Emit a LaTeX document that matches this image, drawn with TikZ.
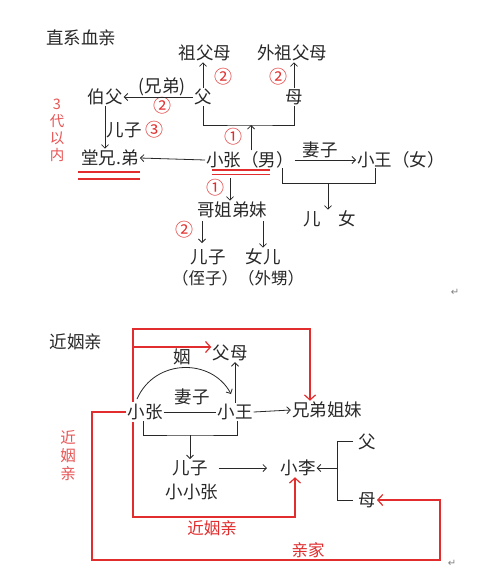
\documentclass[tikz,border=0pt]{standalone}
\usepackage{fontspec}
\setmainfont{Noto Sans CJK SC}
\newfontfamily\dejavu{DejaVu Sans}
\usetikzlibrary{arrows.meta,calc}
\definecolor{rd}{RGB}{225,45,45}
\definecolor{pk}{RGB}{232,85,85}
\definecolor{ink}{RGB}{40,40,40}
\begin{document}
\begin{tikzpicture}[x=1pt,y=-1pt,
  t/.style={inner sep=1pt, text=ink, font=\fontsize{17.5}{19}\selectfont},
  rt/.style={inner sep=1pt, text=rd, font=\fontsize{16.5}{17}\selectfont},
  num/.style={inner sep=0pt, text=rd, font=\fontsize{18}{18}\selectfont},
  arr/.style={draw=ink, line width=0.8pt, -{Straight Barb[length=3.5pt,width=7pt]}},
  ln/.style={draw=ink, line width=0.8pt},
  rln/.style={draw=rd, line width=1.2pt},
  rarr/.style={rln, -{Straight Barb[length=5pt,width=11pt]}},
  pm/.style={inner sep=0pt, text=gray, font=\dejavu\fontsize{10}{10}\selectfont}]
\useasboundingbox (0,0) rectangle (500,573);
\fill[white] (0,0) rectangle (500,573);

% ---------- top: 直系血亲 ----------
\node[t] (title1) at (81,38) {直系血亲};
\node[t] (zfm) at (205,53) {祖父母};
\node[t] (wzfm) at (292,53) {外祖父母};
\node[t] (fu) at (203,97) {父};
\node[t] (mu) at (294,97) {母};
\node[t] (bofu) at (105,97) {伯父};
\node[t] (xd) at (162,87) {(兄弟)};
\node[num] (n1) at (223,77) {②};
\node[num] (n2) at (278,77) {②};
\node[num] (n3) at (162,106) {②};
\node[t] (erzi1) at (124,130) {儿子};
\node[num] (n4) at (154,130) {③};
\node[inner sep=0pt, text=pk, align=center, font=\fontsize{14.5}{17}\selectfont] (sdyn) at (57,130) {3\\代\\以\\内};

\draw[arr] (fu.north) -- (fu.north |- zfm.south);
\draw[arr] (mu.north) -- (mu.north |- wzfm.south);
\draw[arr] (fu.west) -- (bofu.east);
\coordinate (br1) at (251,125);
\draw[ln] (fu.south) |- (br1) -| (mu.south);

\node[t] (tang) at (110,158) {堂兄.弟};
\node[t] (xz) at (250,160) {小张（男）};
\node[t] (qz1) at (320,150) {妻子};
\node[t] (xw) at (401,160) {小王（女）};
\node[num] (n5) at (233,137) {①};
\draw[arr] (xz.north -| br1) -- (br1);
\draw[arr] (bofu.south) -- (bofu.south |- tang.north);
\draw[arr] (xz.west) -- (tang.east);
\draw[arr] (xz.east) -- (xw.west);

\draw[rln] (78,172) -- (140,172);
\draw[rln] (78,179) -- (140,179);
\draw[rln] (212,170) -- (270,170);
\draw[rln] (212,174.5) -- (270,174.5);

\coordinate (b2l) at (282,168);
\coordinate (b2m) at (328,183);
\coordinate (b2r) at (375,168);
\draw[ln] (b2l) |- (b2r |- b2m) -- (b2r);
\node[t] (ernv) at (330,219) {儿　女};
\draw[arr] (b2m) -- (b2m |- ernv.north);

\node[t] (gj) at (232,210) {哥姐弟妹};
\node[num] (n6) at (215,188) {①};
\coordinate (xzb) at (230,178);
\draw[arr] (xzb) -- (xzb |- gj.north);
\node[num] (n7) at (184,230) {②};
\node[t] (ez) at (208,257) {儿子};
\node[t] (ne) at (263,257) {女儿};
\node[t, font=\fontsize{16.5}{18}\selectfont] (zs) at (238,278) {（侄子）（外甥）};
\draw[arr] (202,221) -- (202,243);
\draw[arr] (263,221) -- (ne.north);
\node[pm] (pm1) at (455,292) {↵};

% ---------- bottom: 近姻亲 ----------
\node[t] (title2) at (76,342) {近姻亲};
\node[t] (fm) at (230,353) {父母};
\node[t] (xz2) at (145,412) {小张};
\node[t] (xw2) at (235,412) {小王};
\node[t] (xdjm) at (327,410) {兄弟姐妹};
\node[t] (qz2) at (192,397) {妻子};
\node[t] (yin) at (182,357) {姻};
\node[t] (ez2) at (190,468) {儿子};
\node[t] (xxz) at (192,492) {小小张};
\node[t] (xl) at (298,468) {小李};
\node[t] (fu2) at (367,442) {父};
\node[t] (mu2) at (367,500) {母};
\node[rt, text=pk, align=center, font=\fontsize{15.5}{18}\selectfont] (jyq1) at (68,456) {近\\姻\\亲};
\node[rt] (jyq2) at (212,528) {近姻亲};
\node[rt] (qj) at (308,550) {亲家};

\draw[ln] (xz2.east) -- (xw2.west);
\draw[arr] (xw2.east) -- (xdjm.west);
\draw[arr] (xw2.north) -- (fm.south -| xw2.north);
\draw[arr] (137,399) .. controls (155,358) and (212,358) .. (231,394);

\coordinate (r1) at (133,329);
\coordinate (r2) at (310,329);
\draw[rarr] (133,402) -- (r1) -- (r2) -- (xdjm.north -| r2);
\draw[rarr] (133,347) -- (fm.west |- 0,347);
\coordinate (r3) at (133,517);
\draw[rarr] (133,422) -- (r3) -| (xl.south -| 295,0);
\coordinate (r4) at (92,560);
\coordinate (r5) at (440,500);
\draw[rarr] (xz2.west) -| (r4) -| (r5) -- (mu2.east);

\coordinate (b3m) at (190,435);
\draw[ln] (143,421) |- (b3m) -| (237,421);
\draw[arr] (b3m) -- (ez2.north);
\draw[arr] ($(ez2.east)+(10,0)$) -- (267,468);
\coordinate (b4) at (337,468);
\draw[ln] (353,441) -| (337,500) -- (353,500);
\draw[arr] (b4) -- (xl.east);
\node[pm] (pm2) at (452,563) {↵};
\end{tikzpicture}
\end{document}
